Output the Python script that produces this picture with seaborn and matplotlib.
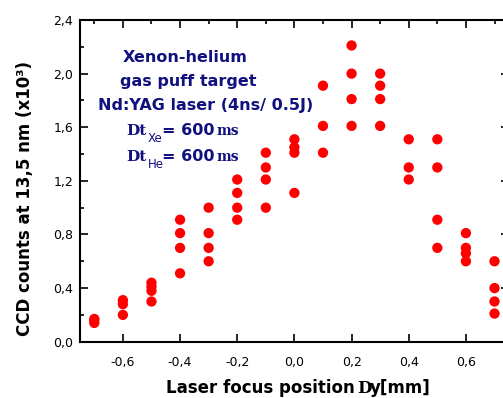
import matplotlib
matplotlib.use("Agg")
import matplotlib.pyplot as plt
import seaborn as sns
import pandas as pd
from matplotlib.ticker import MultipleLocator

# Measured CCD counts (x10^3) at each laser focus position (mm)
positions = [-0.7, -0.7, -0.7,
             -0.6, -0.6, -0.6,
             -0.5, -0.5, -0.5, -0.5,
             -0.4, -0.4, -0.4, -0.4,
             -0.3, -0.3, -0.3, -0.3,
             -0.2, -0.2, -0.2, -0.2,
             -0.1, -0.1, -0.1, -0.1,
             0.0, 0.0, 0.0, 0.0,
             0.1, 0.1, 0.1,
             0.2, 0.2, 0.2, 0.2,
             0.3, 0.3, 0.3, 0.3,
             0.4, 0.4, 0.4,
             0.5, 0.5, 0.5, 0.5,
             0.6, 0.6, 0.6, 0.6,
             0.7, 0.7, 0.7, 0.7]
counts = [0.17, 0.16, 0.14,
          0.31, 0.28, 0.20,
          0.44, 0.41, 0.38, 0.30,
          0.91, 0.81, 0.70, 0.51,
          1.00, 0.81, 0.70, 0.60,
          1.21, 1.11, 1.00, 0.91,
          1.41, 1.30, 1.21, 1.00,
          1.51, 1.45, 1.41, 1.11,
          1.91, 1.61, 1.41,
          2.21, 2.00, 1.81, 1.61,
          2.00, 1.91, 1.81, 1.61,
          1.51, 1.30, 1.21,
          1.51, 1.30, 0.91, 0.70,
          0.81, 0.70, 0.66, 0.60,
          0.60, 0.40, 0.30, 0.21]

x_ticks = [-0.6, -0.4, -0.2, 0.0, 0.2, 0.4, 0.6]
x_tick_labels = ["-0,6", "-0,4", "-0,2", "0,0", "0,2", "0,4", "0,6"]
y_ticks = [0.0, 0.4, 0.8, 1.2, 1.6, 2.0, 2.4]
y_tick_labels = ["0,0", "0,4", "0,8", "1,2", "1,6", "2,0", "2,4"]

df = pd.DataFrame({"position": positions, "counts": counts})

sns.set_style("ticks")
plt.rcParams["font.family"] = ["DejaVu Sans"]
plt.rcParams["text.color"] = "black"

W, H = 503, 398
NAVY = "#10107f"


def fx(x):
    return x / W


def fy(y):
    return 1 - y / H


fig = plt.figure(figsize=(W / 100, H / 100), dpi=100)
ax = fig.add_axes([fx(80), fy(341.7), (508.8 - 80) / W, (341.7 - 20) / H])

sns.scatterplot(data=df, x="position", y="counts", color="#ff0000", s=55,
                edgecolor="none", linewidth=0, legend=False, ax=ax, zorder=3)

ax.set_xlim(-0.75, 0.75)
ax.set_ylim(0.0, 2.4)
ax.set_xticks(x_ticks, x_tick_labels)
ax.set_yticks(y_ticks, y_tick_labels)
ax.xaxis.set_minor_locator(MultipleLocator(0.1))
ax.yaxis.set_minor_locator(MultipleLocator(0.2))
ax.set_xlabel("")
ax.set_ylabel("")

ax.tick_params(which="both", direction="in", top=True, right=True,
               width=1.2, colors="black", labelcolor="black")
ax.tick_params(which="major", length=6, labelsize=9)
ax.tick_params(axis="x", which="major", pad=10)
ax.tick_params(axis="y", which="major", pad=5)
ax.tick_params(axis="x", which="minor", bottom=False, top=True, length=3)
ax.tick_params(axis="y", which="minor", left=True, right=False, length=3)
for sp in ax.spines.values():
    sp.set_linewidth(1.5)
    sp.set_color("black")

# Axis titles
title_kw = dict(fontsize=12, fontweight="bold", va="baseline", color="black")
fig.text(fx(355), fy(393), "Laser focus position", ha="right", **title_kw)
fig.text(fx(357), fy(393), "D", ha="left", family="DejaVu Serif", **title_kw)
fig.text(fx(370), fy(393), "y[mm]", ha="left", **title_kw)
fig.text(fx(25), fy(199), "CCD counts at 13,5 nm (x10³)", rotation=90,
         ha="center", fontsize=12, fontweight="bold", va="center",
         color="black")

# Experimental conditions
ann = dict(color=NAVY, fontweight="bold", fontsize=11.5, va="baseline")
fig.text(fx(185), fy(62), "Xenon-helium", ha="center", **ann)
fig.text(fx(188.7), fy(86), "gas puff target", ha="center", **ann)
fig.text(fx(205.5), fy(110), "Nd:YAG laser (4ns/ 0.5J)", ha="center", **ann)

serif = dict(color=NAVY, fontweight="bold", va="baseline",
             family="DejaVu Serif", ha="left")
for base, sub in [(135, "Xe"), (161, "He")]:
    fig.text(fx(126.7), fy(base), "Dt", fontsize=11, **serif)
    fig.text(fx(147.5), fy(base + 7), sub, ha="left", color=NAVY,
             fontsize=8.5, va="baseline")
    fig.text(fx(161.5), fy(base), "= 600", ha="left", **ann)
    fig.text(fx(217), fy(base), "ms", fontsize=10, **serif)

fig.savefig("out.png", dpi=100)
